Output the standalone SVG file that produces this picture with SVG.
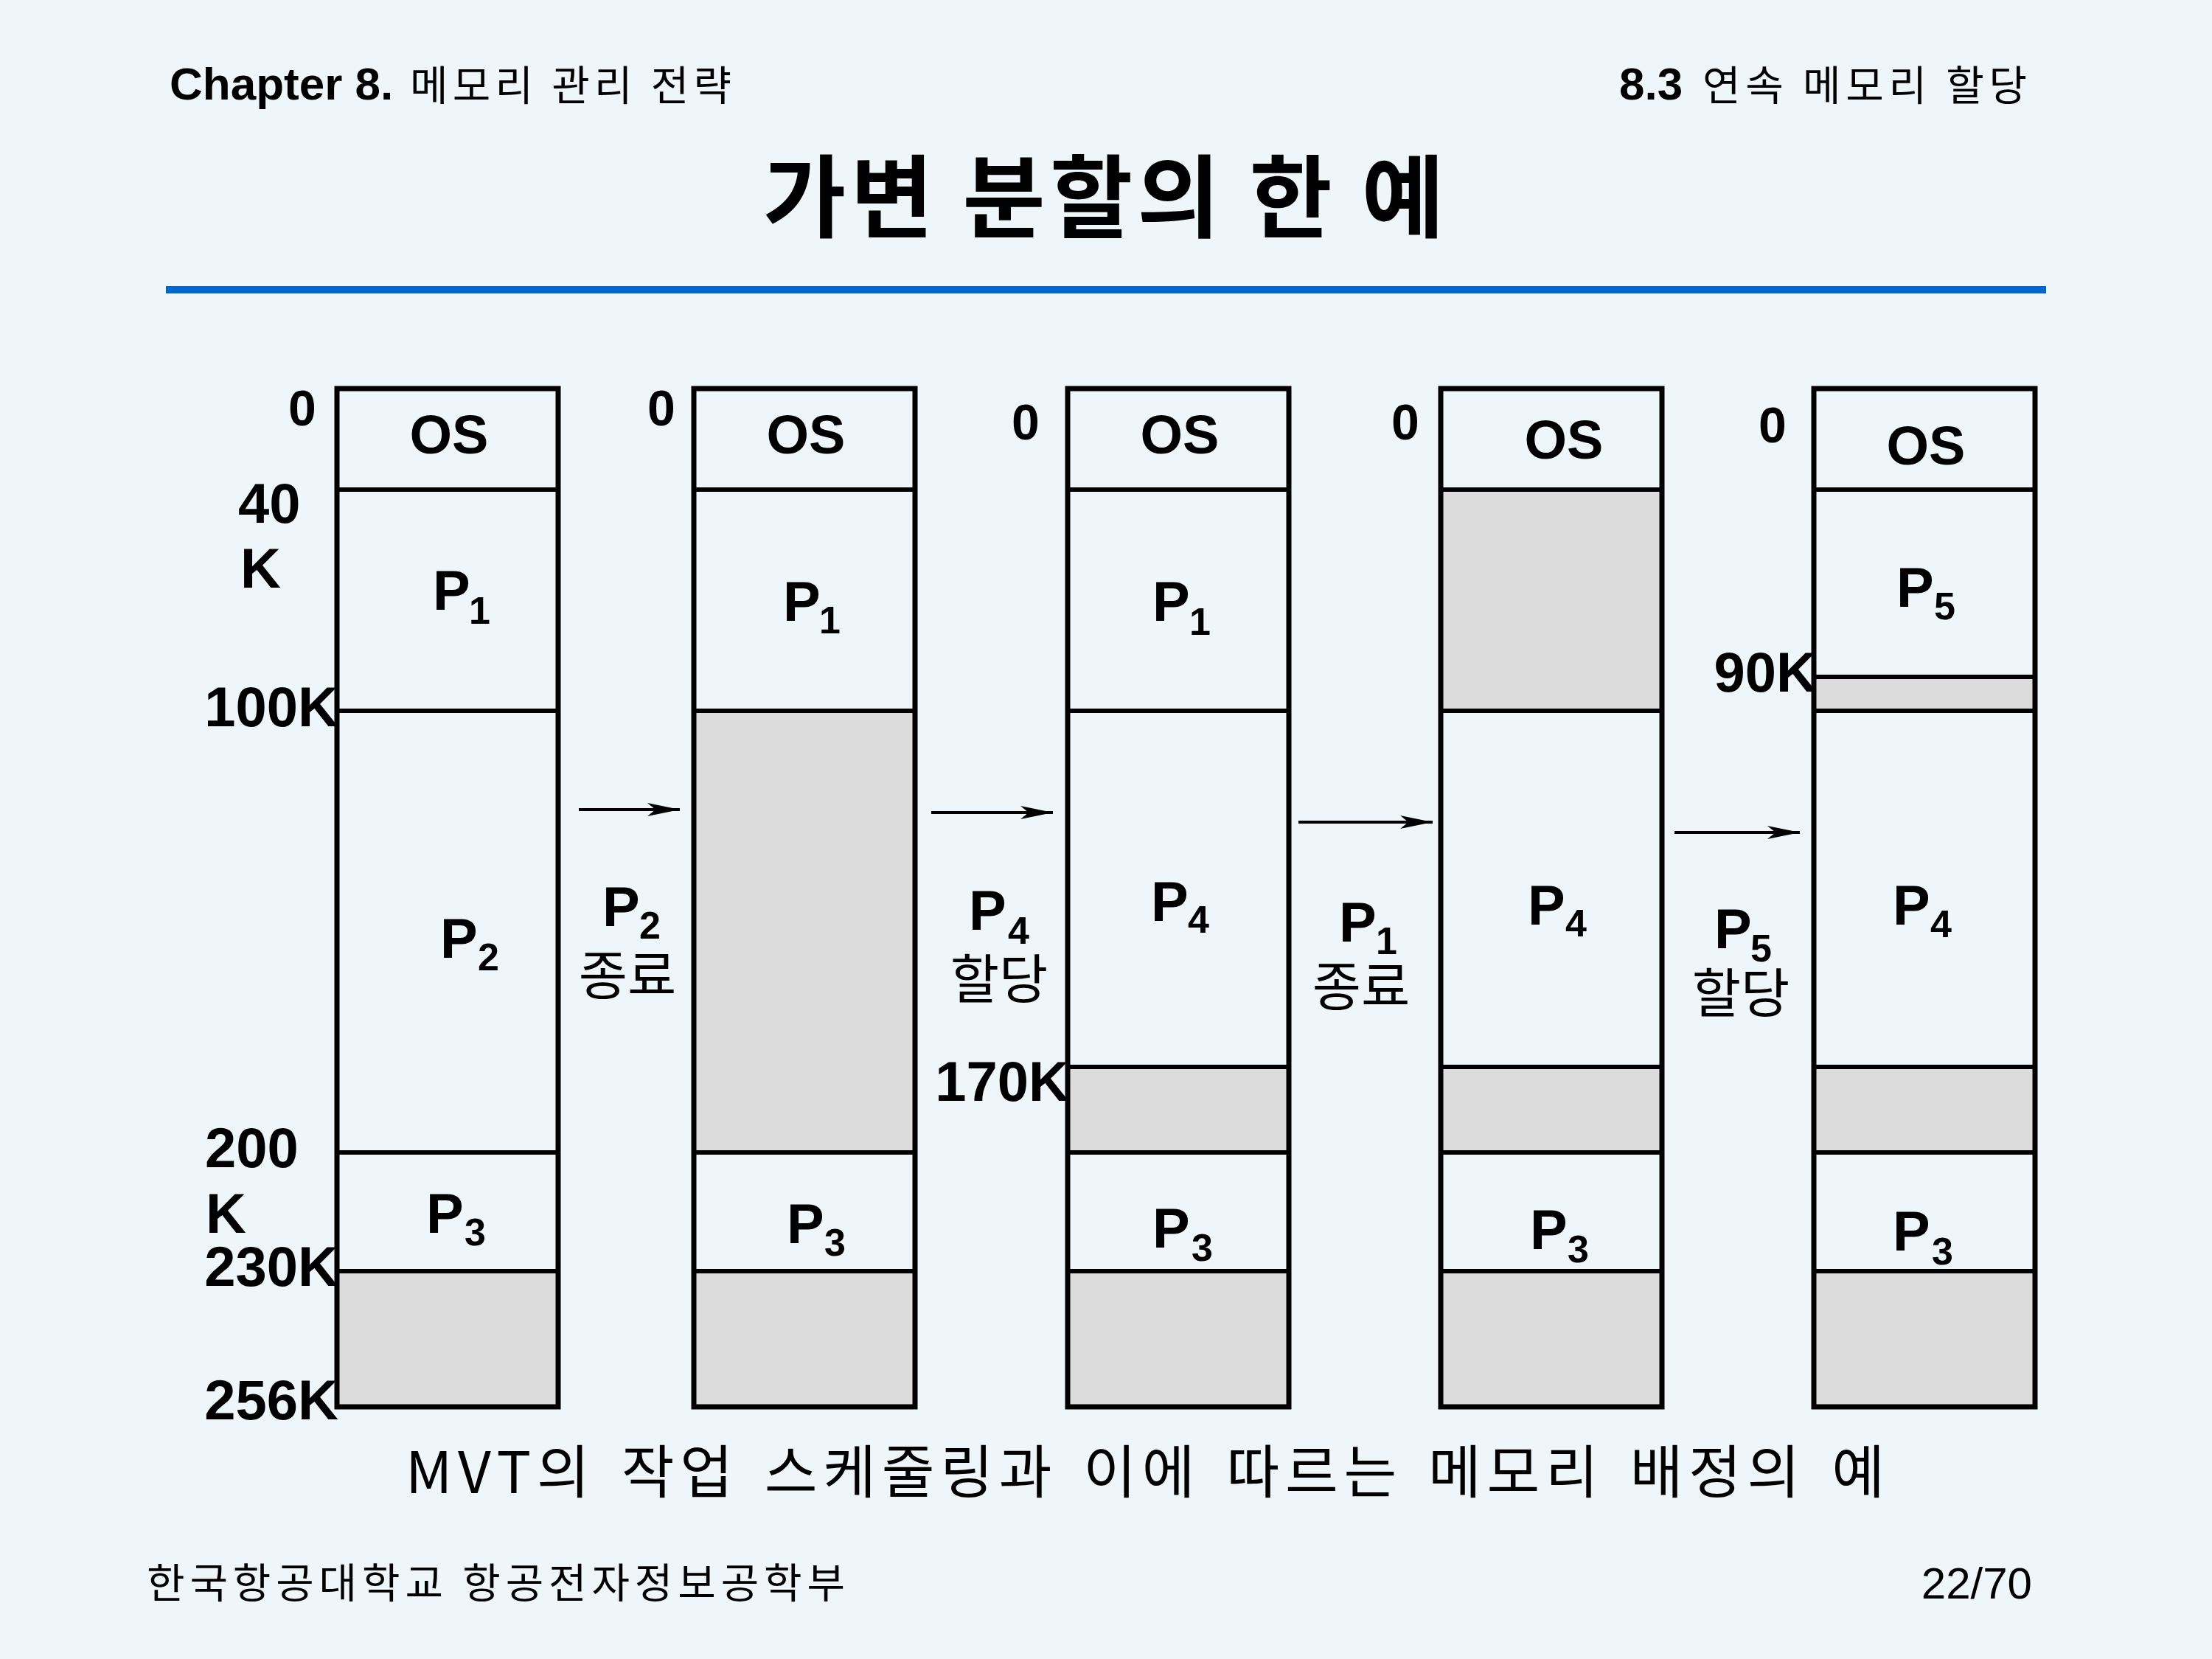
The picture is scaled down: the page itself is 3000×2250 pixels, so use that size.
<svg xmlns="http://www.w3.org/2000/svg" width="3000" height="2250" viewBox="0 0 3000 2250">
<style>
.bg{fill:#EEF6FA}
.gray{fill:#DCDCDC;stroke:none}
.box{fill:none;stroke:#000;stroke-width:7}
.ln{stroke:#000;stroke-width:6}
.arr{stroke:#000;stroke-width:4;fill:none}
.lat{font-family:"Liberation Sans",Arial,sans-serif;font-weight:bold;fill:#000}
.os{font-size:74px;text-anchor:middle}
.zero{font-size:68px}
.addr{font-size:76px}
.p{font-size:76px}
.sub{font-size:52px}
.kr{font-family:"Noto Sans CJK KR","Noto Sans CJK SC",sans-serif;fill:#000}
.lab{font-size:72px;text-anchor:middle}
</style>
<defs>
<marker id="ah" markerUnits="userSpaceOnUse" markerWidth="46" markerHeight="22" viewBox="0 -11 46 22" refX="44" refY="0" orient="auto">
<path d="M0,-9 L44,0 L0,9 L11,0 z" fill="#000"/>
</marker>
</defs>
<rect class="bg" x="0" y="0" width="3000" height="2250"/>

<g id="header">
<text class="lat" x="230" y="135" font-size="62">Chapter 8.</text>
<text class="kr" x="556" y="136" font-size="56" textLength="436">메모리 관리 전략</text>
<text class="lat" x="2196" y="135" font-size="62">8.3</text>
<text class="kr" x="2309" y="136" font-size="56" textLength="440">연속 메모리 할당</text>
<text class="kr" x="1497" y="312" font-size="122" font-weight="bold" text-anchor="middle" textLength="924">가변 분할의 한 예</text>
<rect x="225" y="388" width="2550" height="10" fill="#0066CC"/>
</g>

<g id="col1">
<rect class="gray" x="457" y="1724" width="300" height="184"/>
<line class="ln" x1="457" y1="664" x2="757" y2="664"/>
<line class="ln" x1="457" y1="964" x2="757" y2="964"/>
<line class="ln" x1="457" y1="1563" x2="757" y2="1563"/>
<line class="ln" x1="457" y1="1724" x2="757" y2="1724"/>
<rect class="box" x="457" y="527" width="300" height="1381"/>
<text class="lat zero" x="391" y="577">0</text>
<text class="lat os" x="609" y="615">OS</text>
<text class="lat addr" x="323" y="709">40</text>
<text class="lat addr" x="326" y="797">K</text>
<text class="lat addr" x="459" y="985" text-anchor="end">100K</text>
<text class="lat addr" x="278" y="1583">200</text>
<text class="lat addr" x="279" y="1672">K</text>
<text class="lat addr" x="459" y="1744" text-anchor="end">230K</text>
<text class="lat addr" x="459" y="1925" text-anchor="end">256K</text>
<text class="lat p" x="587" y="827">P<tspan class="sub" x="636" y="846">1</tspan></text>
<text class="lat p" x="597" y="1299">P<tspan class="sub" x="648" y="1316">2</tspan></text>
<text class="lat p" x="578" y="1672">P<tspan class="sub" x="630" y="1689">3</tspan></text>
</g>

<g id="col2">
<rect class="gray" x="941" y="964" width="300" height="599"/>
<rect class="gray" x="941" y="1724" width="300" height="184"/>
<line class="ln" x1="941" y1="664" x2="1241" y2="664"/>
<line class="ln" x1="941" y1="964" x2="1241" y2="964"/>
<line class="ln" x1="941" y1="1563" x2="1241" y2="1563"/>
<line class="ln" x1="941" y1="1724" x2="1241" y2="1724"/>
<rect class="box" x="941" y="527" width="300" height="1381"/>
<text class="lat zero" x="878" y="577">0</text>
<text class="lat os" x="1093" y="615">OS</text>
<text class="lat p" x="1062" y="842">P<tspan class="sub" x="1111" y="859">1</tspan></text>
<text class="lat p" x="1067" y="1686">P<tspan class="sub" x="1118" y="1703">3</tspan></text>
</g>

<g id="col3">
<rect class="gray" x="1448" y="1447" width="300" height="116"/>
<rect class="gray" x="1448" y="1724" width="300" height="184"/>
<line class="ln" x1="1448" y1="664" x2="1748" y2="664"/>
<line class="ln" x1="1448" y1="964" x2="1748" y2="964"/>
<line class="ln" x1="1448" y1="1447" x2="1748" y2="1447"/>
<line class="ln" x1="1448" y1="1563" x2="1748" y2="1563"/>
<line class="ln" x1="1448" y1="1724" x2="1748" y2="1724"/>
<rect class="box" x="1448" y="527" width="300" height="1381"/>
<text class="lat zero" x="1372" y="596">0</text>
<text class="lat os" x="1600" y="615">OS</text>
<text class="lat addr" x="1450" y="1493" text-anchor="end">170K</text>
<text class="lat p" x="1563" y="842">P<tspan class="sub" x="1613" y="861">1</tspan></text>
<text class="lat p" x="1561" y="1249">P<tspan class="sub" x="1611" y="1265">4</tspan></text>
<text class="lat p" x="1563" y="1692">P<tspan class="sub" x="1616" y="1710">3</tspan></text>
</g>

<g id="col4">
<rect class="gray" x="1954" y="664" width="300" height="300"/>
<rect class="gray" x="1954" y="1447" width="300" height="116"/>
<rect class="gray" x="1954" y="1724" width="300" height="184"/>
<line class="ln" x1="1954" y1="664" x2="2254" y2="664"/>
<line class="ln" x1="1954" y1="964" x2="2254" y2="964"/>
<line class="ln" x1="1954" y1="1447" x2="2254" y2="1447"/>
<line class="ln" x1="1954" y1="1563" x2="2254" y2="1563"/>
<line class="ln" x1="1954" y1="1724" x2="2254" y2="1724"/>
<rect class="box" x="1954" y="527" width="300" height="1381"/>
<text class="lat zero" x="1887" y="596">0</text>
<text class="lat os" x="2121" y="622">OS</text>
<text class="lat p" x="2072" y="1254">P<tspan class="sub" x="2123" y="1270">4</tspan></text>
<text class="lat p" x="2075" y="1694">P<tspan class="sub" x="2126" y="1712">3</tspan></text>
</g>

<g id="col5">
<rect class="gray" x="2460" y="918" width="300" height="46"/>
<rect class="gray" x="2460" y="1447" width="300" height="116"/>
<rect class="gray" x="2460" y="1724" width="300" height="184"/>
<line class="ln" x1="2460" y1="664" x2="2760" y2="664"/>
<line class="ln" x1="2460" y1="918" x2="2762" y2="918"/>
<line class="ln" x1="2460" y1="964" x2="2760" y2="964"/>
<line class="ln" x1="2460" y1="1447" x2="2760" y2="1447"/>
<line class="ln" x1="2460" y1="1563" x2="2760" y2="1563"/>
<line class="ln" x1="2460" y1="1724" x2="2760" y2="1724"/>
<rect class="box" x="2460" y="527" width="300" height="1381"/>
<text class="lat zero" x="2385" y="600">0</text>
<text class="lat os" x="2612" y="630">OS</text>
<text class="lat addr" x="2464" y="938" text-anchor="end">90K</text>
<text class="lat p" x="2572" y="823">P<tspan class="sub" x="2623" y="840">5</tspan></text>
<text class="lat p" x="2567" y="1254">P<tspan class="sub" x="2618" y="1271">4</tspan></text>
<text class="lat p" x="2567" y="1696">P<tspan class="sub" x="2620" y="1715">3</tspan></text>
</g>

<g id="connectors">
<line class="arr" x1="785" y1="1098" x2="922" y2="1098" marker-end="url(#ah)"/>
<line class="arr" x1="1263" y1="1102" x2="1428" y2="1102" marker-end="url(#ah)"/>
<line class="arr" x1="1761" y1="1115" x2="1943" y2="1115" marker-end="url(#ah)"/>
<line class="arr" x1="2271" y1="1129" x2="2441" y2="1129" marker-end="url(#ah)"/>
<text class="lat p" x="817" y="1256">P<tspan class="sub" x="867" y="1273">2</tspan></text>
<text class="kr lab" x="851" y="1349">종료</text>
<text class="lat p" x="1314" y="1261">P<tspan class="sub" x="1367" y="1280">4</tspan></text>
<text class="kr lab" x="1355" y="1354">할당</text>
<text class="lat p" x="1816" y="1277">P<tspan class="sub" x="1866" y="1294">1</tspan></text>
<text class="kr lab" x="1846" y="1364">종료</text>
<text class="lat p" x="2325" y="1286">P<tspan class="sub" x="2374" y="1304">5</tspan></text>
<text class="kr lab" x="2361" y="1373">할당</text>
</g>

<g id="footer">
<text class="kr" x="550" y="2025" font-size="78" word-spacing="10" textLength="2006">MVT의 작업 스케줄링과 이에 따르는 메모리 배정의 예</text>
<text class="kr" x="199" y="2167" font-size="56" textLength="947">한국항공대학교 항공전자정보공학부</text>
<text x="2756" y="2168" font-family="Liberation Sans, Arial, sans-serif" font-size="60" text-anchor="end" fill="#000">22/70</text>
</g>
</svg>
